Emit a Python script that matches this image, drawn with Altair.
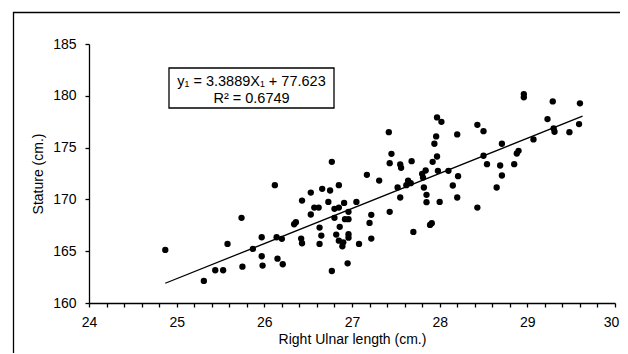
import altair as alt
import pandas as pd

ulna = [24.87, 25.31, 25.44, 25.53, 25.58, 25.74, 25.75, 25.87, 25.97, 25.97,
        25.98, 26.12, 26.14, 26.15, 26.20, 26.21, 26.34, 26.36, 26.43, 26.42,
        26.43, 26.53, 26.53, 26.57, 26.62, 26.63, 26.63, 26.66, 26.65, 26.73,
        26.75, 26.77, 26.77, 26.80, 26.80, 26.82, 26.85, 26.85, 26.86, 26.85,
        26.90, 26.89, 26.91, 26.92, 26.96, 26.96, 26.96, 26.96, 26.95, 27.05,
        27.08, 27.17, 27.20, 27.22, 27.22, 27.31, 27.42, 27.43, 27.43, 27.45,
        27.52, 27.55, 27.56, 27.55, 27.62, 27.64, 27.67, 27.68, 27.70, 27.80,
        27.81, 27.82, 27.84, 27.85, 27.85, 27.89, 27.91, 27.92, 27.94, 27.96,
        27.97, 27.98, 27.97, 28.02, 28.00, 28.10, 28.15, 28.20, 28.21, 28.20,
        28.43, 28.43, 28.50, 28.50, 28.54, 28.65, 28.69, 28.71, 28.71, 28.85,
        28.88, 28.90, 28.96, 28.96, 29.07, 29.23, 29.29, 29.30, 29.31, 29.48,
        29.59, 29.60]
stature = [165.12, 162.13, 163.16, 163.16, 165.70, 168.22, 163.51, 165.22, 166.35, 164.51,
           163.61, 171.37, 166.35, 164.28, 166.19, 163.74, 167.60, 167.80, 169.89, 166.22,
           165.77, 170.66, 168.54, 169.21, 169.21, 167.28, 165.70, 171.02, 166.51, 169.76,
           170.86, 173.63, 163.09, 169.09, 168.22, 166.60, 171.37, 169.21, 167.35, 166.02,
           165.86, 165.48, 169.66, 168.09, 168.80, 168.09, 166.64, 166.31, 163.83, 169.76,
           165.70, 172.37, 167.73, 168.51, 166.22, 171.82, 176.49, 173.50, 168.80, 174.40,
           171.15, 173.37, 173.05, 170.18, 171.37, 171.82, 171.57, 173.69, 166.86, 172.47,
           172.11, 171.15, 172.79, 170.44, 169.73, 167.54, 167.70, 173.63, 175.37, 176.08,
           174.14, 172.76, 177.91, 177.49, 169.76, 172.76, 171.34, 176.27, 172.24, 170.18,
           177.20, 169.21, 176.59, 174.21, 173.40, 171.15, 173.27, 175.37, 172.31, 173.40,
           174.43, 174.69, 180.17, 179.85, 175.79, 177.75, 179.46, 176.85, 176.53, 176.49,
           177.27, 179.27]

slope = 3.3889
intercept = 77.623
line_x = [24.87, 29.63]
eq_line1 = "y\u2081 = 3.3889X\u2081 + 77.623"
eq_line2 = "R\u00b2 = 0.6749"

x_ticks = [round(24 + 0.2 * i, 1) for i in range(31)]
y_ticks = [160, 165, 170, 175, 180, 185]

pts = pd.DataFrame({"x": ulna, "y": stature})
ln = pd.DataFrame({"x": line_x})
ln["y"] = slope * ln["x"] + intercept

FONT = "Liberation Sans"
xscale = alt.Scale(domain=[24, 30], nice=False, zero=False)
yscale = alt.Scale(domain=[160, 185], nice=False, zero=False)

xaxis = alt.Axis(values=x_ticks, labelExpr="(datum.value % 1 == 0) ? datum.label : ''",
                 format=".0f", grid=False, tickSize=4, labelPadding=8, titlePadding=3,
                 labelOverlap=False, labelFlush=False,
                 labelOffset={"condition": {"test": "datum.value >= 30", "value": -4}, "value": 0})
yaxis = alt.Axis(values=y_ticks, format="d", grid=False, tickSize=4, labelPadding=9,
                 titlePadding=7)

X = alt.X("x:Q", scale=xscale, axis=xaxis, title="Right Ulnar length (cm.)")
Y = alt.Y("y:Q", scale=yscale, axis=yaxis, title="Stature (cm.)")

points = alt.Chart(pts).mark_circle(size=40, color="black", opacity=1).encode(x=X, y=Y)

trend = alt.Chart(ln).mark_line(color="black", strokeWidth=1.3).encode(x=X, y=Y)

one = pd.DataFrame({"a": [0]})

box = alt.Chart(one).mark_rect(
    fill="white", stroke="black", strokeWidth=1.3
).encode(x=alt.value(80), x2=alt.value(245), y=alt.value(24), y2=alt.value(64))

text1 = alt.Chart(one).mark_text(font=FONT, fontSize=14.5, color="black",
                                 align="center", baseline="middle", text=eq_line1).encode(
    x=alt.value(162.5), y=alt.value(37.5))
text2 = alt.Chart(one).mark_text(font=FONT, fontSize=14.5, color="black",
                                 align="center", baseline="middle", text=eq_line2).encode(
    x=alt.value(162.5), y=alt.value(54.5))

frame = alt.Chart(one).mark_rect(
    fill=None, stroke="black", strokeWidth=1.3
).encode(x=alt.value(-75.5), x2=alt.value(700), y=alt.value(-31.5), y2=alt.value(500))

chart = alt.layer(points, trend, frame, box, text1, text2).properties(
    width=526, height=259,
    autosize=alt.AutoSizeParams(type="none"),
    padding={"left": 81, "top": 36, "right": 5, "bottom": 50},
).configure_view(stroke=None).configure_axis(
    labelFont=FONT, titleFont=FONT, labelFontSize=14, titleFontSize=14,
    labelColor="black", titleColor="black", domainColor="black", tickColor="black",
    titleFontWeight="normal", domainWidth=1.3, tickWidth=1.3,
)

chart.save("out.html", embed_options={"renderer": "svg", "actions": False})
